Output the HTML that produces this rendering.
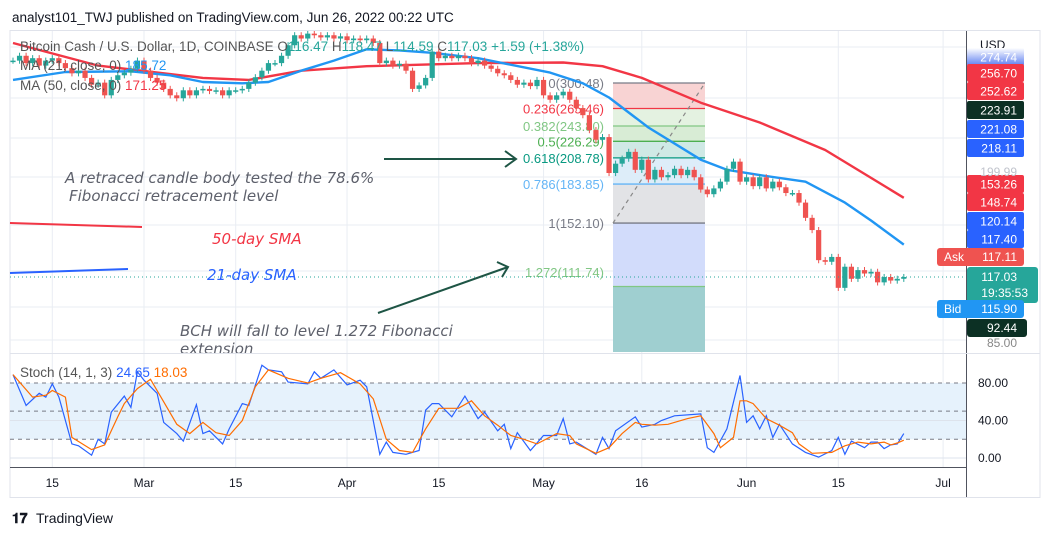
<!DOCTYPE html>
<html><head><meta charset="utf-8">
<style>
html,body{margin:0;padding:0;background:#fff;width:1048px;height:536px;overflow:hidden;}
svg{display:block;font-family:"Liberation Sans",sans-serif;}
</style></head>
<body>
<svg id="chart" width="1048" height="536" viewBox="0 0 1048 536" xmlns="http://www.w3.org/2000/svg">
<defs>
<clipPath id="mainClip"><rect x="10" y="31" width="956" height="321"/></clipPath>
<clipPath id="stClip"><rect x="10" y="355" width="956" height="112"/></clipPath>
<linearGradient id="fadeTag" x1="0" y1="0" x2="0" y2="1"><stop offset="0" stop-color="#fff"/><stop offset="1" stop-color="#5b7cf0"/></linearGradient>
</defs>
<text x="12" y="22" font-size="13.5" fill="#131722">analyst101_TWJ published on TradingView.com, Jun 26, 2022 00:22 UTC</text>
<rect x="10" y="30.5" width="1030" height="467" fill="none" stroke="#e0e3eb"/>
<g id="grid"></g>
<g id="fib" clip-path="url(#mainClip)"></g>
<g id="main" clip-path="url(#mainClip)"></g>
<g id="stoch" clip-path="url(#stClip)"></g>
<g id="annot">
  <line x1="10" y1="223" x2="142" y2="227" stroke="#f23645" stroke-width="2"/>
  <line x1="10" y1="273" x2="128" y2="269" stroke="#2962ff" stroke-width="2"/>
  <g font-family="'DejaVu Sans',sans-serif" font-style="italic" font-size="15">
    <text x="65" y="183" fill="#5d606b">A retraced candle body tested the 78.6%</text>
    <text x="69" y="201" fill="#5d606b">Fibonacci retracement level</text>
    <text x="212" y="244" fill="#f23645">50-day SMA</text>
    <text x="207" y="280" fill="#2962ff">21-day SMA</text>
    <text x="180" y="336" fill="#5d606b">BCH will fall to level 1.272 Fibonacci</text>
    <text x="180" y="354" fill="#5d606b">extension</text>
  </g>
  <g stroke="#1e5545" stroke-width="2" fill="none">
    <line x1="384" y1="159" x2="516" y2="159"/><polyline points="505,151 516,159 505,167"/>
  </g>
  <g stroke="#1e5545" stroke-width="2" fill="none">
    <line x1="378" y1="313" x2="508" y2="267"/><polyline points="497,262 508,267 502,277"/>
  </g>
</g>
<g id="legend" font-size="13.5">
  <text x="20" y="51" fill="#555">Bitcoin Cash / U.S. Dollar, 1D, COINBASE  O<tspan fill="#26a69a">116.47</tspan>  H<tspan fill="#26a69a">118.47</tspan>  L<tspan fill="#26a69a">114.59</tspan>  C<tspan fill="#26a69a">117.03</tspan>  <tspan fill="#26a69a">+1.59 (+1.38%)</tspan></text>
  <text x="20" y="70" fill="#555">MA (21, close, 0)  <tspan fill="#2196f3">185.72</tspan></text>
  <text x="20" y="90" fill="#555">MA (50, close, 0)  <tspan fill="#f23645">171.25</tspan></text>
  <text x="20" y="377" fill="#555">Stoch (14, 1, 3)  <tspan fill="#2962ff">24.65</tspan>  <tspan fill="#ff6d00">18.03</tspan></text>
</g>
<g id="axes"></g>
<g>
  <text x="12" y="523" font-size="14" font-weight="bold" fill="#131722">𝟏𝟕</text>
  <text x="36" y="523" font-size="14" fill="#131722">TradingView</text>
</g>
</svg>
<script>
// ---- data ----
const dates = ["15","Mar","15","Apr","15","May","16","Jun","15","Jul"];
const dateDays = [6,20,34,51,65,81,96,112,126,142];
const closes = [335,343,331,339,327,335,
339,331,323,315,319,308,298,
301,283,305,312,316,322,335,
319,308,301,292,283,279,290,
283,290,292,289,290,283,290,
290,292,301,309,319,331,331,
343,361,379,373,382,379,375,
379,373,377,370,373,370,373,
365,331,335,327,330,319,292,
297,308,350,339,343,339,343,
339,331,335,327,322,315,312,
305,298,301,296,305,283,277,
283,288,277,266,257,239,228,
231,194,203,208,215,197,207,188,197,190,192,198,192,197,190,
179,175,180,186,198,205,186,190,182,190,180,186,181,176,176,
168,156,147,127,126,129,111,123,116,121,119,120,114,117,115,116,117];
const ma50Days = [0,13,29,36,44,54,71,84,90,96,105,114,124,136];
const ma50Vals = [365,327,308,305,319,326,331,332,326,308,273,248,217,172];
const ma21Days = [0,8,18,24,29,35,39,44,49,54,59,64,71,82,87,91,97,105,109,114,121,127,131,136];
const ma21Vals = [305,317,318,312,302,300,302,319,335,354,352,348,339,316,300,280,242,207,197,192,186,168,154,137];
const kDays = [0,2,4,5,6,7,9,10,12,13,14,15,17,18,19,20,22,23,25,26,28,29,30,32,33,35,36,38,39,41,42,45,46,47,49,51,53,54,56,57,58,60,62,63,64,65,67,69,71,72,74,75,76,77,79,81,83,84,85,86,89,90,91,92,95,96,98,99,101,105,106,107,109,111,112,113,114,115,116,117,119,121,123,125,126,127,128,130,131,132,133,134,135,136];
const kVals = [89,56,69,65,79,65,15,13,3,20,15,49,66,54,92,83,69,38,26,18,57,26,29,15,31,58,56,99,94,92,81,79,92,85,94,78,83,76,4,17,6,4,8,51,58,58,44,66,42,49,29,36,10,27,8,24,24,42,15,17,4,22,10,29,44,33,36,40,45,47,11,6,31,88,38,45,31,45,22,36,15,6,1,8,22,4,18,11,17,17,10,14,15,26];
const dDays = [0,3,5,6,8,9,12,14,16,17,19,21,23,25,27,29,31,33,35,37,39,42,45,47,50,53,55,57,59,61,63,65,68,70,72,74,76,78,80,83,85,86,89,91,93,95,96,98,100,103,105,107,108,110,111,112,113,115,117,119,120,122,125,127,129,131,133,134,135,136];
const dVals = [89,65,67,72,65,22,9,14,44,58,74,84,60,36,26,38,27,24,40,76,94,85,80,85,91,79,63,20,8,6,31,53,53,61,45,35,24,20,15,26,24,15,5,11,26,38,36,35,36,42,45,26,11,22,61,61,58,42,35,27,15,5,6,13,17,15,17,14,16,19];
const fibTop = 300.48, fibBottom = 152.10;
const fibLevels = [0,0.236,0.382,0.5,0.618,0.786,1,1.272,1.618];
const priceTicks = ["274.74","256.70","252.62","223.91","221.08","218.11","153.26","148.74","120.14","117.40"];
const stochTicks = [80,40,0];

// ---- scales ----
const X = i => 13 + 6.55*i;
const Y = p => 83 + 205.7*Math.log(300.48/p);
const YS = v => 458 - 0.9375*v;
const NS = "http://www.w3.org/2000/svg";
function mk(tag, attrs, parent){const e=document.createElementNS(NS,tag);for(const k in attrs)e.setAttribute(k,attrs[k]);parent.appendChild(e);return e;}
const grid=document.getElementById('grid'), main=document.getElementById('main'), fib=document.getElementById('fib'), st=document.getElementById('stoch'), axes=document.getElementById('axes');

// grid
dateDays.forEach(d=>{const l=mk('line',{x1:X(d),x2:X(d),y1:31,y2:467,stroke:'#e9edf3'},grid);

});
[47,98,138,177,225,271,307,340].forEach(y=>{const l=mk('line',{x1:10,x2:966,y1:y,y2:y,stroke:'#e9edf3'},grid);

});

// fib
const fibColors=['#f8d3d3','#e4f2e1','#d8ecd5','#cfe9e5','#ddedf9','#e2e3e6','#d2dcfb','#9fcfd0'];
const fibLine=['#787b86','#f23645','#81c784','#4caf50','#089981','#64b5f6','#787b86','#81c784','#089981'];
const fibLbl=['#787b86','#f23645','#81c784','#4caf50','#089981','#64b5f6','#787b86','#81c784'];
const fx1=613, fx2=705;
const fp = l => fibBottom + (1-l)*(fibTop-fibBottom);
for(let k=0;k<fibLevels.length-1;k++){
  const ya=Y(fp(fibLevels[k])), yb=Math.min(Y(fp(fibLevels[k+1])),360);
  const r=mk('rect',{x:fx1,y:ya,width:fx2-fx1,height:yb-ya,fill:fibColors[k]},fib);
  
  
}
for(let k=0;k<fibLevels.length;k++){
  const y=Y(fp(fibLevels[k]));
  const l=mk('line',{x1:fx1,x2:fx2,y1:y,y2:y,stroke:fibLine[k],'stroke-width':1.3},fib);
  
  
  if(k<8){
    const ty = k===7 ? 277 : y+5;
    const t=mk('text',{x:604,y:ty,'text-anchor':'end','font-size':13,fill:fibLbl[k]},fib);
    t.textContent=fibLevels[k]+'('+fp(fibLevels[k]).toFixed(2)+')';
    
    
  }
}
const trend=mk('line',{x1:fx1,y1:Y(fibBottom),x2:fx2,y2:Y(fibTop),stroke:'#888','stroke-width':1.2,'stroke-dasharray':'4,4'},fib);



// moving averages
function pathFrom(days, vals, ys){return days.map((d,i)=>(i?'L':'M')+X(d).toFixed(1)+','+ys(vals[i]).toFixed(1)).join(' ');}
const m50=mk('path',{d:pathFrom(ma50Days,ma50Vals,Y),fill:'none',stroke:'#f23645','stroke-width':2.4,'stroke-linejoin':'round'},main);


const m21=mk('path',{d:pathFrom(ma21Days,ma21Vals,Y),fill:'none',stroke:'#2196f3','stroke-width':2.4,'stroke-linejoin':'round'},main);



// candles
closes.forEach((c,i)=>{
  const o = i ? closes[i-1] : c;
  const up = c>=o, col = up ? '#26a69a' : '#ef5350';
  const hi=Math.max(o,c)*1.015, lo=Math.min(o,c)*0.985;
  const x=X(i);
  const g=mk('g',{},main);
  
  
  mk('line',{x1:x,x2:x,y1:Y(hi),y2:Y(lo),stroke:col,'stroke-width':1},g);
  const yt=Y(Math.max(o,c)), yb=Y(Math.min(o,c));
  mk('rect',{x:x-2.6,y:yt,width:5.2,height:Math.max(1.5,yb-yt),fill:col},g);
});
const last=closes[closes.length-1];
const pl=mk('line',{x1:10,x2:966,y1:Y(last),y2:Y(last),stroke:'#26a69a','stroke-dasharray':'1,3'},main);



// stoch pane
const band=mk('rect',{x:10,y:YS(80),width:956,height:YS(20)-YS(80),fill:'#e6f2fc'},st);


[80,50,20].forEach(v=>{const l=mk('line',{x1:10,x2:966,y1:YS(v),y2:YS(v),stroke:'#787b86','stroke-dasharray':'4,4'},st);

});
[40,0].forEach(v=>{const l=mk('line',{x1:10,x2:966,y1:YS(v),y2:YS(v),stroke:'#dde3ec'},st);

});
const kl=mk('path',{d:pathFrom(kDays,kVals,YS),fill:'none',stroke:'#2962ff','stroke-width':1.2},st);


const dl=mk('path',{d:pathFrom(dDays,dVals,YS),fill:'none',stroke:'#ff6d00','stroke-width':1.2},st);



// axes
mk('line',{x1:966.5,x2:966.5,y1:31,y2:497,stroke:'#50535e'},axes);
mk('line',{x1:10,x2:1040,y1:353.5,y2:353.5,stroke:'#e0e3eb'},axes);
mk('line',{x1:10,x2:966,y1:467.5,y2:467.5,stroke:'#50535e'},axes);
const usd=mk('text',{x:980,y:49,'font-size':12,fill:'#131722'},axes);usd.textContent='USD';


dates.forEach((d,i)=>{const t=mk('text',{x:X(dateDays[i]),y:487,'font-size':12,'text-anchor':'middle',fill:'#131722'},axes);t.textContent=d;

});
stochTicks.forEach(v=>{const t=mk('text',{x:978,y:YS(v)+4,'font-size':12,fill:'#131722'},axes);t.textContent=v.toFixed(2);

});
// price tags
const tagY=[57,73,91,110,129,148,184,202,221,239];
const tagC=['url(#fadeTag)','#f23645','#f23645','#0c3024','#2962ff','#2962ff','#f23645','#f23645','#2962ff','#2962ff'];
priceTicks.forEach((p,i)=>{
  const g=mk('g',{},axes);
  
  
  mk('rect',{x:967,y:tagY[i]-9,width:57,height:18,rx:2,fill:tagC[i]},g);
  const t=mk('text',{x:1017,y:tagY[i]+4.5,'font-size':12,'text-anchor':'end',fill:'#fff'},g);t.textContent=p;
});
const fade=mk('text',{x:1017,y:176,'font-size':12,'text-anchor':'end',fill:'#c0c3cc'},axes);fade.textContent='199.99';
function tag(x,y,w,h,col,name){const r=mk('rect',{x:x,y:y,width:w,height:h,rx:3,fill:col},axes);

}
tag(937,248,87,18,'#ef5350','ask-tag');
tag(967,267,71,36,'#26a69a','last-price-tag');
tag(937,300,87,18,'#2196f3','bid-tag');
tag(967,319,60,18,'#0c3024','low-tag');
[[944,261,'Ask','start'],[1017,261,'117.11','end'],[1017,281,'117.03','end'],[1028,297,'19:35:53','end'],[944,313,'Bid','start'],[1017,313,'115.90','end'],[1017,332,'92.44','end']].forEach(a=>{
  const t=mk('text',{x:a[0],y:a[1],'font-size':12,'text-anchor':a[3],fill:'#fff'},axes);t.textContent=a[2];
});
const t85=mk('text',{x:1017,y:347,'font-size':12,'text-anchor':'end',fill:'#888'},axes);t85.textContent='85.00';
</script>
</body></html>
